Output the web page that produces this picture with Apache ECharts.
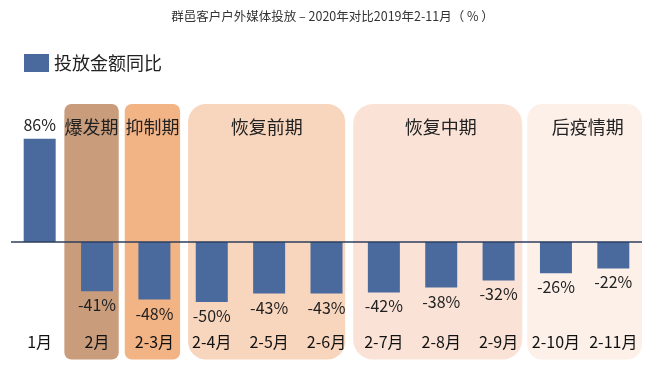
<!DOCTYPE html>
<html>
<head>
<meta charset="utf-8">
<script src="https://cdn.jsdelivr.net/npm/echarts@6/dist/echarts.min.js"></script>
<style>
html,body{margin:0;padding:0;background:#fff;}
#chart{width:665px;height:373px;}
</style>
</head>
<body>
<div id="chart"></div>
<script>
// ---- data ----
var categories = ['1月','2月','2-3月','2-4月','2-5月','2-6月','2-7月','2-8月','2-9月','2-10月','2-11月'];
var values = [86, -41, -48, -50, -43, -43, -42, -38, -32, -26, -22];
var seriesName = '投放金额同比';
var phaseNames = ['爆发期','抑制期','恢复前期','恢复中期','后疫情期'];
var phaseStart = [1, 2, 3, 6, 9];
var phaseEnd   = [1, 2, 5, 8, 10];
var titleText = '群邑客户户外媒体投放 – 2020年对比2019年2-11月（ % ）';

// ---- styles ----
var FONT = '"Noto Sans CJK SC", "Noto Sans", sans-serif';
var phaseColors = ['#C99C7C', '#F2B385', '#F8D5BD', '#FAE3D6', '#FCF0E9'];
var phaseInsetL = [-4, -1, 5, -2, 0];
var phaseInsetR = [7, 3, 10, 5, 0];
var phaseRadius = [7, 7, 18, 20, 15];
var BOX_TOP = 115, BOX_BOTTOM = -98;

var chart = echarts.init(document.getElementById('chart'), null, {renderer: 'canvas'});

var barData = values.map(function (v) {
  return {value: v, label: {position: v >= 0 ? 'top' : 'bottom'}};
});
var phaseData = phaseNames.map(function (n, i) {
  return [phaseStart[i], phaseEnd[i], n, i];
});

chart.setOption({
  animation: false,
  title: {
    text: titleText, left: 'center', top: 5,
    textStyle: {fontFamily: FONT, fontSize: 12.5, fontWeight: 'normal', color: '#333'}
  },
  legend: {
    data: [seriesName], left: 19, top: 49, icon: 'rect', itemWidth: 25, itemHeight: 18, itemGap: 10,
    textStyle: {fontFamily: FONT, fontSize: 18, color: '#222'}
  },
  grid: {left: 11, right: 23, top: 104, bottom: 41, containLabel: false},
  xAxis: {
    type: 'category', data: categories, z: 10,
    axisLine: {show: false}, axisTick: {show: false},
    axisLabel: {fontFamily: FONT, fontSize: 16, color: '#111', margin: 2, interval: 0}
  },
  yAxis: {
    type: 'value', min: -75, max: 115, show: false, splitLine: {show: false}
  },
  series: [
    {
      type: 'custom', name: 'phases', z: 1, silent: true, clip: false,
      data: phaseData,
      encode: {x: [0, 1]},
      renderItem: function (params, api) {
        var i = api.value(3);
        var band = api.size([1, 0])[0];
        var x0 = api.coord([api.value(0), 0])[0] - band / 2 + phaseInsetL[i];
        var x1 = api.coord([api.value(1), 0])[0] + band / 2 - phaseInsetR[i];
        var y0 = api.coord([0, BOX_TOP])[1];
        var y1 = api.coord([0, BOX_BOTTOM])[1];
        return {
          type: 'group',
          children: [
            {type: 'rect', shape: {x: x0, y: y0, width: x1 - x0, height: y1 - y0, r: phaseRadius[i]},
             style: {fill: phaseColors[i]}},
            {type: 'text', x: (x0 + x1) / 2 + (i >= 3 ? 3 : 0), y: y0 + 23,
             style: {text: phaseNames[i], fill: '#222', font: '18px ' + FONT, align: 'center', verticalAlign: 'middle'}}
          ]
        };
      }
    },
    {
      type: 'bar', name: seriesName, z: 3, data: barData, barWidth: 32,
      itemStyle: {color: '#4A6A9E'},
      label: {show: true, formatter: '{c}%', distance: 6, fontFamily: FONT, fontSize: 16, color: '#222'},
      markLine: {
        silent: true, symbol: 'none', label: {show: false},
        lineStyle: {color: '#2C3E5C', width: 1.5, type: 'solid'},
        data: [{yAxis: 0}]
      }
    }
  ]
});
</script>
</body>
</html>
